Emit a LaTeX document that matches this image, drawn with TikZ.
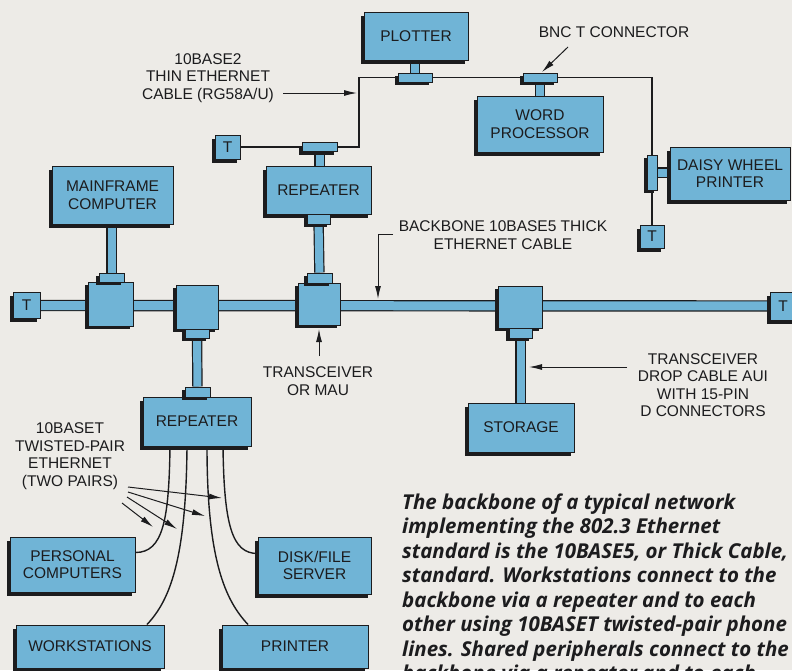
\documentclass[tikz,border=0pt]{standalone}
\usepackage{fontspec}
\setmainfont{Liberation Sans}
\newfontfamily\capfont{Open Sans}
\usetikzlibrary{shadows,arrows.meta,calc}
\definecolor{paper}{RGB}{237,235,231}
\definecolor{cblue}{RGB}{112,180,214}
\definecolor{ink}{RGB}{28,28,30}
\pgfdeclarelayer{bg}
\pgfdeclarelayer{back}
\pgfsetlayers{bg,back,main}
\tikzset{
  lbl/.style={font=\fontsize{15.5}{17.5}\selectfont, text=ink, align=center, inner sep=0pt},
  dev/.style={draw=ink, line width=1pt, fill=cblue, lbl,
    drop shadow={shadow xshift=-3.5pt, shadow yshift=-3.5pt, fill=ink, opacity=1}},
  blk/.style={draw=ink, line width=1pt, fill=cblue, inner sep=0pt,
    drop shadow={shadow xshift=-3pt, shadow yshift=-3pt, fill=ink, opacity=1}},
  cable/.style={draw=ink, line width=1.2pt, double=cblue, double distance=9pt},
  dropc/.style={draw=ink, line width=1.2pt, double=cblue, double distance=8pt},
  thinc/.style={draw=ink, line width=1.1pt},
  pair/.style={draw=ink, line width=1.4pt},
  arr/.style={draw=ink, line width=1pt, -{Latex[length=13pt,width=6pt]}},
  capt/.style={font=\capfont\bfseries\itshape\fontsize{20.5}{24.5}\selectfont, text=ink, align=left, inner sep=0pt},
}
\begin{document}
\begin{tikzpicture}[x=1pt,y=-1pt]
\useasboundingbox (0,0) rectangle (792,670);
\begin{pgfonlayer}{bg}
  \fill[paper] (0,0) rectangle (792,670);
\end{pgfonlayer}
\begin{scope}
\clip (0,0) rectangle (792,670);
% devices
\node[dev, minimum width=104pt, minimum height=48pt] (plotter) at (416,36) {PLOTTER};
\node[dev, minimum width=126pt, minimum height=56pt] (wordp) at (540,124) {WORD\\PROCESSOR};
\node[dev, minimum width=120pt, minimum height=53pt] (daisy) at (730,173.5) {DAISY WHEEL\\PRINTER};
\node[dev, minimum width=105pt, minimum height=48pt] (repU) at (318.5,190) {REPEATER};
\node[dev, minimum width=121pt, minimum height=58pt] (mainframe) at (112.5,195) {MAINFRAME\\COMPUTER};
\node[dev, minimum width=108pt, minimum height=49pt] (repL) at (197,421.5) {REPEATER};
\node[dev, minimum width=106pt, minimum height=49pt] (storage) at (521,427.5) {STORAGE};
\node[dev, minimum width=125pt, minimum height=55pt] (pc) at (72.5,564.5) {PERSONAL\\COMPUTERS};
\node[dev, minimum width=113pt, minimum height=57pt] (disk) at (314.5,565.5) {DISK/FILE\\SERVER};
\node[dev, minimum width=148pt, minimum height=43pt] (ws) at (90,646.5) {WORKSTATIONS};
\node[dev, minimum width=146pt, minimum height=43pt] (printer) at (295,646.5) {PRINTER};
% terminators
\node[dev, minimum width=27pt, minimum height=26pt] (tL) at (26.5,305.5) {T};
\node[dev, minimum width=26pt, minimum height=28pt] (tR) at (783,306) {T};
\node[dev, minimum width=25pt, minimum height=24pt] (tThin) at (227.5,147) {T};
\node[dev, minimum width=24pt, minimum height=23pt] (tDaisy) at (652,236.5) {T};
% transceivers
\node[blk, minimum width=45pt, minimum height=44pt] (x1) at (110.5,304) {};
\node[blk, minimum width=42pt, minimum height=44pt] (x2) at (197,307) {};
\node[blk, minimum width=42pt, minimum height=42pt] (x3) at (319,304) {};
\node[blk, minimum width=44pt, minimum height=42pt] (x4) at (520,307) {};
% connector blocks
\node[blk, minimum width=25pt, minimum height=9pt] (c1t) at (111.5,277.5) {};
\node[blk, minimum width=24pt, minimum height=9pt] (c2b) at (197,333.5) {};
\node[blk, minimum width=25pt, minimum height=10pt] (c2r) at (197.5,392) {};
\node[blk, minimum width=25pt, minimum height=10pt] (c3t) at (319.5,278) {};
\node[blk, minimum width=23pt, minimum height=10pt] (c3r) at (318.5,219) {};
\node[blk, minimum width=23pt, minimum height=10pt] (c4b) at (520.5,333) {};
% BNC T connectors
\node[blk, minimum width=34pt, minimum height=9pt] (tPlot) at (415,77.5) {};
\node[blk, minimum width=34pt, minimum height=9pt] (tWord) at (540,77.5) {};
\node[blk, minimum width=35pt, minimum height=9pt] (tRep) at (319.5,147) {};
\node[blk, minimum width=10pt, minimum height=35pt] (tDai) at (652,172.5) {};
\end{scope}
% cables
\begin{pgfonlayer}{back}
  \draw[cable] (tL.center) -- (tR.center);
  \draw[dropc] (mainframe.south -| c1t) -- (c1t);
  \draw[dropc] (c2b) -- (c2r);
  \draw[dropc] (c3r) -- (c3t);
  \draw[dropc] (c4b) -- (storage.north -| c4b);
  \draw[dropc] (plotter.south -| tPlot) -- (tPlot);
  \draw[dropc] (tWord) -- (wordp.north -| tWord);
  \draw[dropc] (tRep) -- (repU.north -| tRep);
  \draw[dropc] (tDai) -- (daisy.west |- tDai);
\end{pgfonlayer}
% thin ethernet
\coordinate (bend) at (359,147);
\draw[thinc] (tThin.east) -- (tRep.west);
\draw[thinc] (tRep.east) -- (bend) |- (tPlot.west);
\draw[thinc] (tPlot.east) -- (tWord.west);
\draw[thinc] (tWord.east) -| (tDai.north);
\draw[thinc] (tDai.south) -- (tDaisy.north);
% twisted pairs
\draw[pair] ([xshift=-27pt]repL.south) .. controls (169,520) and (163,552.5) .. ([yshift=12pt]pc.east);
\draw[pair] ([xshift=-10pt]repL.south) .. controls (186,560) and (170,600) .. ([xshift=57pt]ws.north);
\draw[pair] ([xshift=10pt]repL.south) .. controls (207,560) and (225,600) .. ([xshift=-47pt]printer.north);
\draw[pair] ([xshift=26pt]repL.south) .. controls (224,525) and (232,553.5) .. ([yshift=12pt]disk.west);
% labels
\node[lbl] (lthin) at (208,78) {10BASE2\\THIN ETHERNET\\CABLE (RG58A/U)};
\node[lbl] (lbnc) at (614,32) {BNC T CONNECTOR};
\node[lbl] (lback) at (503,235) {BACKBONE 10BASE5 THICK\\ETHERNET CABLE};
\node[lbl] (ltrx) at (318,381) {TRANSCEIVER\\OR MAU};
\node[lbl] (laui) at (703,385) {TRANSCEIVER\\DROP CABLE AUI\\WITH 15-PIN\\D CONNECTORS};
\node[lbl] (ltp) at (70,456) {10BASET\\TWISTED-PAIR\\ETHERNET\\(TWO PAIRS)};
% annotation arrows
\coordinate (a1s) at (283,93);   \coordinate (a1e) at (357,93);
\draw[arr] (a1s) -- (a1e);
\coordinate (a2s) at (568,47);   \coordinate (a2e) at (542,72);
\draw[arr] (a2s) -- (a2e);
\coordinate (a3s) at (393,234);  \coordinate (a3m) at (378,234); \coordinate (a3e) at (378,299);
\draw[arr] (a3s) -- (a3m) -- (a3e);
\coordinate (a4s) at (319,356);  \coordinate (a4e) at (319,329);
\draw[arr] (a4s) -- (a4e);
\coordinate (a5s) at (627,367);  \coordinate (a5e) at (529,367);
\draw[arr] (a5s) -- (a5e);
\coordinate (p1s) at (128,487);  \coordinate (p1e) at (222,498);
\coordinate (p2s) at (128,492);  \coordinate (p2e) at (205,516);
\coordinate (p3s) at (127,497);  \coordinate (p3e) at (177,529);
\coordinate (p4s) at (122,503);  \coordinate (p4e) at (153,527);
\draw[arr] (p1s) -- (p1e);
\draw[arr] (p2s) -- (p2e);
\draw[arr] (p3s) -- (p3e);
\draw[arr] (p4s) -- (p4e);
% caption
\begin{scope}
\clip (0,0) rectangle (792,670);
\node[capt, anchor=base west] (cap) at (402,680.5) {The backbone of a typical network\\
implementing the 802.3 Ethernet\\
standard is the 10BASE5, or Thick Cable,\\
standard. Workstations connect to the\\
backbone via a repeater and to each\\
other using 10BASET twisted-pair phone\\
lines. Shared peripherals connect to the\\
backbone via a repeater and to each};
\end{scope}
\end{tikzpicture}
\end{document}
